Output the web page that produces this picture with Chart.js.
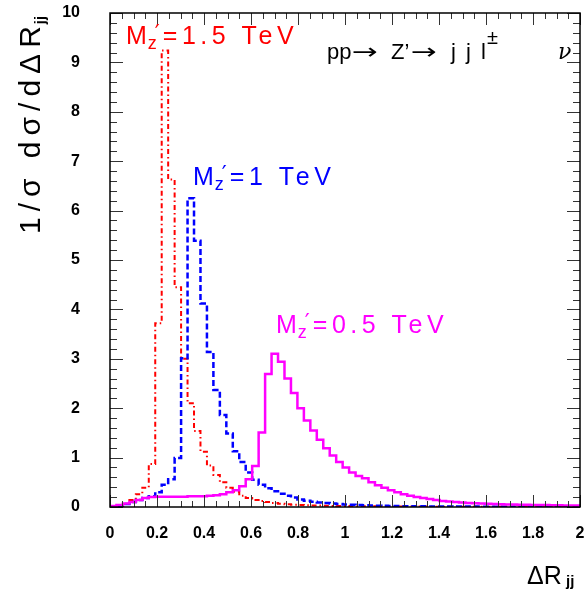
<!DOCTYPE html>
<html>
<head>
<meta charset="utf-8">
<script src="https://cdn.jsdelivr.net/npm/chart.js@4.4.0/dist/chart.umd.min.js"></script>
<style>
  html, body { margin: 0; padding: 0; background: #fff; }
</style>
</head>
<body>
<canvas id="dr" width="587" height="592"></canvas>
<script>
// histogram binning: 80 bins on [0, 2.2], only the part up to 2 is shown
const binWidth = 0.0275;

// 1/sigma dsigma/dDeltaR_jj per bin, one array per Z' mass
const mz15 = [
  0.01, 0.03, 0.06, 0.14, 0.26, 0.39, 0.87, 3.72, 9.24, 6.63,
  4.45, 3.00, 2.10, 1.54, 1.12, 0.84, 0.65, 0.50, 0.39, 0.31,
  0.23, 0.18, 0.14, 0.12, 0.10, 0.08, 0.065, 0.055, 0.045, 0.04,
  0.035, 0.03, 0.028, 0.025, 0.022, 0.02, 0.018, 0.016, 0.015, 0.014,
  0.013, 0.012, 0.011, 0.01, 0.01, 0.009, 0.009, 0.008, 0.008, 0.007,
  0.007, 0.007, 0.006, 0.006, 0.006, 0.005, 0.005, 0.005, 0.005, 0.004,
  0.004, 0.004, 0.004, 0.004, 0.003, 0.003, 0.003, 0.003, 0.003, 0.003,
  0.002, 0.002, 0.002
];
const mz10 = [
  0.00, 0.02, 0.06, 0.10, 0.14, 0.18, 0.22, 0.30, 0.45, 0.56,
  0.99, 3.01, 6.25, 5.39, 4.12, 3.14, 2.37, 1.86, 1.49, 1.13,
  0.91, 0.70, 0.55, 0.45, 0.38, 0.32, 0.27, 0.23, 0.19, 0.15,
  0.125, 0.105, 0.09, 0.08, 0.07, 0.06, 0.05, 0.045, 0.04, 0.035,
  0.03, 0.027, 0.024, 0.021, 0.019, 0.017, 0.015, 0.014, 0.013, 0.012,
  0.011, 0.01, 0.01, 0.009, 0.009, 0.008, 0.008, 0.007, 0.007, 0.007,
  0.006, 0.006, 0.006, 0.005, 0.005, 0.005, 0.005, 0.004, 0.004, 0.004,
  0.004, 0.003, 0.003
];
const mz05 = [
  0.02, 0.04, 0.07, 0.10, 0.14, 0.18, 0.20, 0.21, 0.21, 0.21,
  0.21, 0.21, 0.22, 0.22, 0.22, 0.23, 0.24, 0.26, 0.30, 0.34,
  0.42, 0.56, 0.83, 1.51, 2.69, 3.10, 2.94, 2.60, 2.31, 2.00,
  1.75, 1.55, 1.36, 1.19, 1.04, 0.91, 0.80, 0.70, 0.63, 0.58,
  0.50, 0.44, 0.39, 0.34, 0.30, 0.26, 0.23, 0.20, 0.18, 0.16,
  0.14, 0.12, 0.11, 0.10, 0.09, 0.08, 0.075, 0.07, 0.065, 0.06,
  0.055, 0.05, 0.05, 0.045, 0.045, 0.04, 0.04, 0.04, 0.035, 0.035,
  0.03, 0.03, 0.03
];

const xTicks = [0, 0.2, 0.4, 0.6, 0.8, 1, 1.2, 1.4, 1.6, 1.8, 2];
const xTickLabels = ['0', '0.2', '0.4', '0.6', '0.8', '1', '1.2', '1.4', '1.6', '1.8', '2'];
const yTicks = [0, 1, 2, 3, 4, 5, 6, 7, 8, 9, 10];

const FONT = '"Liberation Sans", Arial, Helvetica, sans-serif';

// bin contents -> step outline points (left edge of each bin, plus closing edge)
function histPoints(vals) {
  const pts = vals.map((v, i) => ({ x: i * binWidth, y: v }));
  pts.push({ x: vals.length * binWidth, y: vals[vals.length - 1] });
  return pts;
}

function seg(ctx, x1, y1, x2, y2) {
  ctx.beginPath();
  ctx.moveTo(x1, y1);
  ctx.lineTo(x2, y2);
  ctx.stroke();
}

// "M_Z' = ... TeV" annotation
function massLabel(ctx, x, y, mass, color) {
  ctx.fillStyle = color;
  ctx.textAlign = 'left';
  ctx.textBaseline = 'alphabetic';
  ctx.letterSpacing = '0px';
  ctx.font = '25px ' + FONT;
  ctx.fillText('M', x, y);
  const cx = x + ctx.measureText('M').width + 1;
  ctx.font = '18px ' + FONT;
  ctx.fillText('z', cx, y + 5);
  ctx.font = '22px "DejaVu Sans", ' + FONT;
  ctx.fillText('\u2032', cx + 7, y - 4);
  ctx.font = '25px ' + FONT;
  ctx.letterSpacing = '4.5px';
  ctx.fillText('=' + mass + ' TeV', cx + 15, y);
  ctx.letterSpacing = '0px';
}

// arrow glyph stretched a little horizontally
function arrow(ctx, x, y, w) {
  ctx.save();
  ctx.font = '22px "DejaVu Sans", ' + FONT;
  const aw = ctx.measureText('\u2192').width;
  ctx.translate(x, y);
  ctx.scale(w / aw, 1);
  ctx.fillText('\u2192', 0, 0);
  ctx.restore();
}

const frame = {
  id: 'frame',
  afterDatasetsDraw(chart) {
    const { ctx, chartArea: a, scales: { x, y } } = chart;
    ctx.save();

    // inward ticks on all four sides
    ctx.strokeStyle = '#333';
    ctx.lineWidth = 1;
    for (let k = 0; k <= 40; k++) {
      const px = Math.round(x.getPixelForValue(k * 0.05)) + 0.5;
      const len = k % 4 === 0 ? 12 : 6;
      seg(ctx, px, a.bottom, px, a.bottom - len);
      seg(ctx, px, a.top, px, a.top + len);
    }
    for (let k = 0; k <= 50; k++) {
      const py = Math.round(y.getPixelForValue(k * 0.2)) + 0.5;
      const len = k % 5 === 0 ? 13 : 7;
      seg(ctx, a.left, py, a.left + len, py);
      seg(ctx, a.right, py, a.right - len, py);
    }

    ctx.strokeStyle = '#000';
    ctx.lineWidth = 1.5;
    ctx.strokeRect(a.left, a.top, a.right - a.left, a.bottom - a.top);

    // curve annotations
    massLabel(ctx, 126, 44, '1.5', '#ff0000');
    massLabel(ctx, 193, 185, '1', '#0000ff');
    massLabel(ctx, 276, 333, '0.5', '#ff00ff');

    // process label
    ctx.fillStyle = '#000';
    ctx.textAlign = 'left';
    ctx.textBaseline = 'alphabetic';
    ctx.font = '22px ' + FONT;
    ctx.fillText('pp', 327, 59);
    arrow(ctx, 352, 59, 26);
    ctx.fillText('Z\u2019', 391, 59);
    arrow(ctx, 411, 59, 26);
    ctx.fillText('j', 451, 59);
    ctx.fillText('j', 466, 59);
    ctx.fillText('l', 481, 59);
    ctx.font = '20px ' + FONT;
    ctx.fillText('\u00b1', 487, 44);
    ctx.font = 'italic 22px "DejaVu Serif", serif';
    ctx.fillText('\u03bd', 558, 59);
    ctx.restore();
  },
  afterDraw(chart) {
    const { ctx } = chart;
    ctx.save();
    ctx.fillStyle = '#000';
    ctx.textBaseline = 'alphabetic';
    ctx.textAlign = 'left';

    // y title, rotated
    ctx.translate(40, 234);
    ctx.rotate(-Math.PI / 2);
    ctx.font = '30px ' + FONT;
    ctx.letterSpacing = '6px';
    const ttl = '1/\u03c3 d\u03c3/d\u0394R';
    ctx.fillText(ttl, 0, 0);
    const w = ctx.measureText(ttl).width;
    ctx.font = 'bold 15px ' + FONT;
    ctx.letterSpacing = '0px';
    ctx.fillText('jj', w - 4, 5);
    ctx.restore();

    // x title
    ctx.save();
    ctx.fillStyle = '#000';
    ctx.textAlign = 'left';
    ctx.font = '25px ' + FONT;
    ctx.fillText('\u0394R', 527, 584);
    ctx.font = 'bold 15px ' + FONT;
    ctx.fillText('jj', 566, 586);
    ctx.restore();
  }
};

const ctx = document.getElementById('dr').getContext('2d');
const dr = new Chart(ctx, {
  type: 'line',
  data: {
    datasets: [
      {
        label: "M_Z'=1.5 TeV",
        data: histPoints(mz15),
        stepped: 'before',
        borderColor: '#ff0000',
        borderWidth: 2,
        borderDash: [5, 3, 1.5, 3],
        pointRadius: 0,
        fill: false,
        clip: 0,
        order: 3
      },
      {
        label: "M_Z'=1 TeV",
        data: histPoints(mz10),
        stepped: 'before',
        borderColor: '#0000ff',
        borderWidth: 2.5,
        borderDash: [6, 3],
        pointRadius: 0,
        fill: false,
        clip: 0,
        order: 2
      },
      {
        label: "M_Z'=0.5 TeV",
        data: histPoints(mz05),
        stepped: 'before',
        borderColor: '#ff00ff',
        borderWidth: 2.5,
        pointRadius: 0,
        fill: false,
        clip: 0,
        order: 1
      }
    ]
  },
  options: {
    responsive: false,
    animation: false,
    devicePixelRatio: 1,
    layout: { padding: { top: 13, right: 7, left: 0, bottom: 0 } },
    plugins: { legend: { display: false }, tooltip: { enabled: false } },
    scales: {
      x: {
        type: 'linear',
        min: 0,
        max: 2,
        afterBuildTicks: s => { s.ticks = xTicks.map(v => ({ value: v })); },
        afterFit: s => {
          s.height = 85;
          s.paddingLeft = 0;
          s.paddingRight = 0;
        },
        ticks: {
          autoSkip: false,
          maxRotation: 0,
          padding: 9,
          color: '#000',
          font: { family: FONT, size: 16, weight: 'bold' },
          callback: (v, i) => xTickLabels[i]
        },
        grid: { display: false },
        border: { display: false }
      },
      y: {
        type: 'linear',
        min: 0,
        max: 10,
        afterBuildTicks: s => { s.ticks = yTicks.map(v => ({ value: v })); },
        afterFit: s => {
          s.width = 110;
          s.paddingTop = 0;
          s.paddingBottom = 0;
        },
        ticks: {
          autoSkip: false,
          padding: 22,
          color: '#000',
          font: { family: FONT, size: 16, weight: 'bold' }
        },
        grid: { display: false },
        border: { display: false }
      }
    }
  },
  plugins: [frame]
});
</script>
</body>
</html>
